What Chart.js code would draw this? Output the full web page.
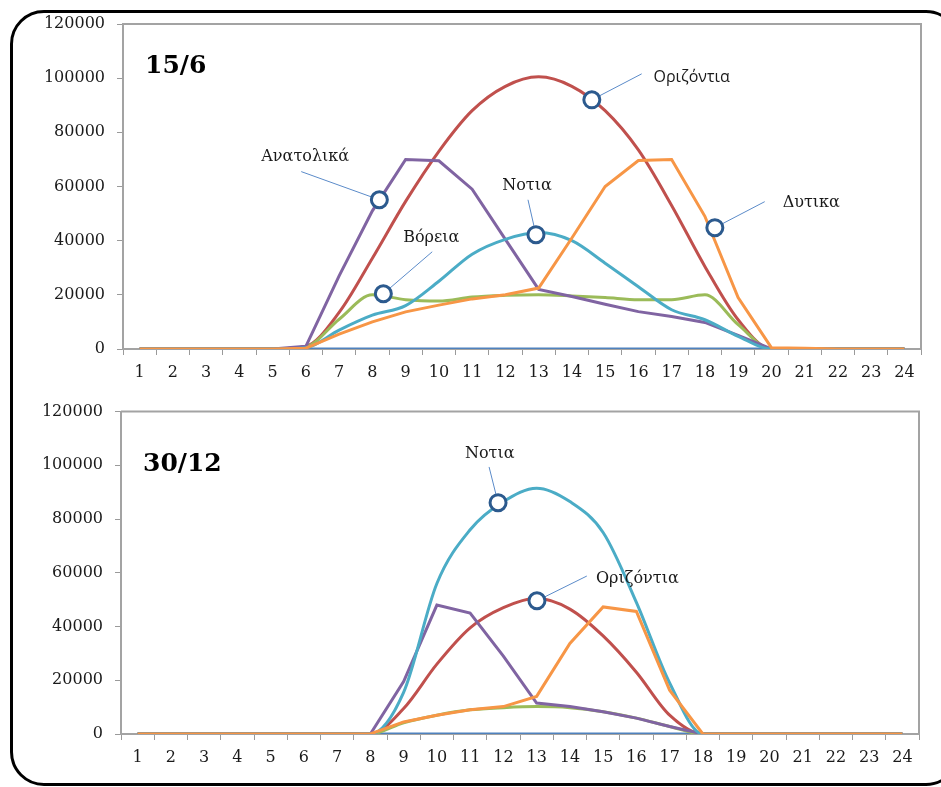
<!DOCTYPE html>
<html><head><meta charset="utf-8">
<script src="https://cdn.jsdelivr.net/npm/chart.js@4.4.1/dist/chart.umd.min.js"></script>
<style>
html,body{margin:0;padding:0;background:#fff;width:941px;height:787px;overflow:hidden;}
#wrap{position:relative;width:941px;height:787px;overflow:hidden;}
#frame{position:absolute;left:10px;top:10px;width:950px;height:776px;box-sizing:border-box;border:3px solid #000;border-radius:34px;}
canvas{position:absolute;left:0;}
#c1{top:0}#c2{top:390px}
</style></head><body>
<div id="wrap">
<div id="frame"></div>
<canvas id="c1" width="941" height="390"></canvas>
<canvas id="c2" width="941" height="397"></canvas>
</div>
<script>
// ---- categories (hours) ----
const hours = ['1','2','3','4','5','6','7','8','9','10','11','12','13','14','15','16','17','18','19','20','21','22','23','24'];
const yTicks = [0,20000,40000,60000,80000,100000,120000];

// ---- 15/6 ----
const baseJun  = [0,0,0,0,0,0,0,0,0,0,0,0,0,0,0,0,0,0,0,0,0,0,0,0];
const horizJun = [0,0,0,0,0,1000,13500,33500,54500,73000,88000,97000,100500,97000,88000,73500,53000,30500,10800,0,0,0,0,0];
const northJun = [0,0,0,0,0,800,11000,20000,18200,17700,19200,19800,20000,19600,19000,18200,18200,20000,9000,0,0,0,0,0];
const eastJun  = [0,0,0,0,0,1000,27000,51000,70000,69500,59000,40500,22000,19400,16500,13800,12000,9800,5000,0,0,0,0,0];
const southJun = [0,0,0,0,0,500,7000,12500,16000,25000,35000,40500,43000,40000,31700,23000,14500,10800,4700,0,0,0,0,0];
const westJun  = [0,0,0,0,0,300,5500,10000,13700,16200,18500,20000,22500,41000,60000,69600,70000,49000,19000,500,300,0,0,0];

// ---- 30/12 ----
const baseDec  = [0,0,0,0,0,0,0,0,0,0,0,0,0,0,0,0,0,0,0,0,0,0,0,0];
const horizDec = [0,0,0,0,0,0,0,0,9500,26000,39500,47000,50500,46500,36500,23000,7000,0,0,0,0,0,0,0];
const northDec = [0,0,0,0,0,0,0,0,4200,7000,9000,9800,10200,9800,8300,5900,2800,0,0,0,0,0,0,0];
const eastDec  = [0,0,0,0,0,0,0,0,19500,48000,45000,29000,11500,10200,8300,5900,2800,0,0,0,0,0,0,0];
const southDec = [0,0,0,0,0,0,0,0,15500,56000,76000,86500,91500,86500,75000,49000,19000,0,0,0,0,0,0,0];
const westDec  = [0,0,0,0,0,0,0,0,4500,7000,9000,10200,14000,33700,47300,45600,16300,0,0,0,0,0,0,0];

// ---- callouts: [hour, value] for marker, leader end, text anchor ----
const notesJun = [
  {text:'Ανατολικά', at:[8.21,55100], lead:[5.86,65500], label:[5.98,69300], serif:true},
  {text:'Βόρεια',    at:[8.33,20400], lead:[9.8,35900],  label:[9.77,39600], serif:true},
  {text:'Νοτια',     at:[12.92,42200],lead:[12.68,55100],label:[12.65,58800],serif:true},
  {text:'Οριζόντια', at:[14.6,92000], lead:[16.1,101600],label:[17.6,98700], serif:false},
  {text:'Δυτικα',    at:[18.3,44800], lead:[19.8,54400], label:[21.2,52500], serif:true}
];
const notesDec = [
  {text:'Νοτια',     at:[11.84,86100],lead:[11.57,99400],label:[11.59,102700],serif:true},
  {text:'Οριζόντια', at:[13.01,49600],lead:[14.51,58800],label:[16.03,56200], serif:true}
];

const C = {blue:'#4F81BD', red:'#C0504D', green:'#9BBB59', purple:'#8064A2', teal:'#4BACC6', orange:'#F79646'};

function datasets(base, horiz, north, east, south, west){
  const smooth = {cubicInterpolationMode:'monotone'};
  const straight = {tension:0};
  return [
    Object.assign({data:west,  borderColor:C.orange}, straight),
    Object.assign({data:south, borderColor:C.teal},   smooth),
    Object.assign({data:east,  borderColor:C.purple}, straight),
    Object.assign({data:north, borderColor:C.green},  smooth),
    Object.assign({data:horiz, borderColor:C.red},    smooth),
    Object.assign({data:base,  borderColor:C.blue},   straight)
  ].map(d=>Object.assign({borderWidth:3, pointRadius:0, fill:false}, d));
}

function notesPlugin(title, titleDx, titleDy, notes){
  return {
    id:'notes',
    beforeDatasetsDraw(chart){
      const {ctx, chartArea:a} = chart;
      ctx.save();
      ctx.strokeStyle='#a3a3a3'; ctx.lineWidth=2;
      ctx.beginPath(); ctx.moveTo(a.left,a.top); ctx.lineTo(a.right,a.top); ctx.lineTo(a.right,a.bottom); ctx.stroke();
      ctx.restore();
    },
    afterDatasetsDraw(chart){
      const {ctx, chartArea:a, scales:{x,y}} = chart;
      const px = v => x.getPixelForValue(v-1);
      ctx.save();
      ctx.font='bold 25px "DejaVu Serif"'; ctx.fillStyle='#000'; ctx.textAlign='left'; ctx.textBaseline='alphabetic';
      ctx.fillText(title, a.left+titleDx, a.top+titleDy);
      notes.forEach(n=>{
        const cx=px(n.at[0]), cy=y.getPixelForValue(n.at[1]);
        const lx=px(n.lead[0]), ly=y.getPixelForValue(n.lead[1]);
        ctx.strokeStyle='#5B8BC9'; ctx.lineWidth=1;
        ctx.beginPath(); ctx.moveTo(lx,ly); ctx.lineTo(cx,cy); ctx.stroke();
        ctx.beginPath(); ctx.arc(cx,cy,8,0,Math.PI*2);
        ctx.fillStyle='#fff'; ctx.fill();
        ctx.strokeStyle='#2C5A8E'; ctx.lineWidth=3; ctx.stroke();
        ctx.font = n.serif ? '16px "DejaVu Serif"' : '16px "Open Sans"';
        ctx.fillStyle='#1a1a1a'; ctx.textAlign='center'; ctx.textBaseline='alphabetic';
        ctx.fillText(n.text, px(n.label[0]), y.getPixelForValue(n.label[1]));
      });
      ctx.restore();
    }
  };
}

function options(cfg){
  const tickFont = {family:'DejaVu Serif', size:16};
  return {
    responsive:false, animation:false, devicePixelRatio:1,
    layout:{padding:{left:0, right:cfg.padRight, top:cfg.padTop, bottom:0}},
    plugins:{legend:{display:false}, tooltip:{enabled:false}},
    scales:{
      x:{type:'category', offset:true,
         grid:{offset:true, drawOnChartArea:false, drawTicks:true, tickLength:6, color:'#9a9a9a', lineWidth:1},
         border:{display:true, color:'#a3a3a3', width:2},
         ticks:{font:tickFont, color:'#1a1a1a', padding:8, maxRotation:0, autoSkip:false},
         afterFit(s){ s.height = cfg.xH; }},
      y:{min:0, max:120000,
         afterBuildTicks(s){ s.ticks = yTicks.map(v=>({value:v})); },
         grid:{drawOnChartArea:false, drawTicks:true, tickLength:6, color:'#9a9a9a', lineWidth:1},
         border:{display:true, color:'#a3a3a3', width:2},
         ticks:{font:tickFont, color:'#1a1a1a', padding:12, callback:v=>String(v)},
         afterFit(s){ s.width = cfg.yW; }}
    }
  };
}

new Chart(document.getElementById('c1'), {
  type:'line',
  data:{labels:hours, datasets:datasets(baseJun, horizJun, northJun, eastJun, southJun, westJun)},
  options:options({padRight:20, padTop:24, xH:41, yW:123}),
  plugins:[notesPlugin('15/6', 22, 49, notesJun)]
});
new Chart(document.getElementById('c2'), {
  type:'line',
  data:{labels:hours, datasets:datasets(baseDec, horizDec, northDec, eastDec, southDec, westDec)},
  options:options({padRight:22, padTop:19, xH:53, yW:121}),
  plugins:[notesPlugin('30/12', 22, 59, notesDec)]
});
</script>
</body></html>
